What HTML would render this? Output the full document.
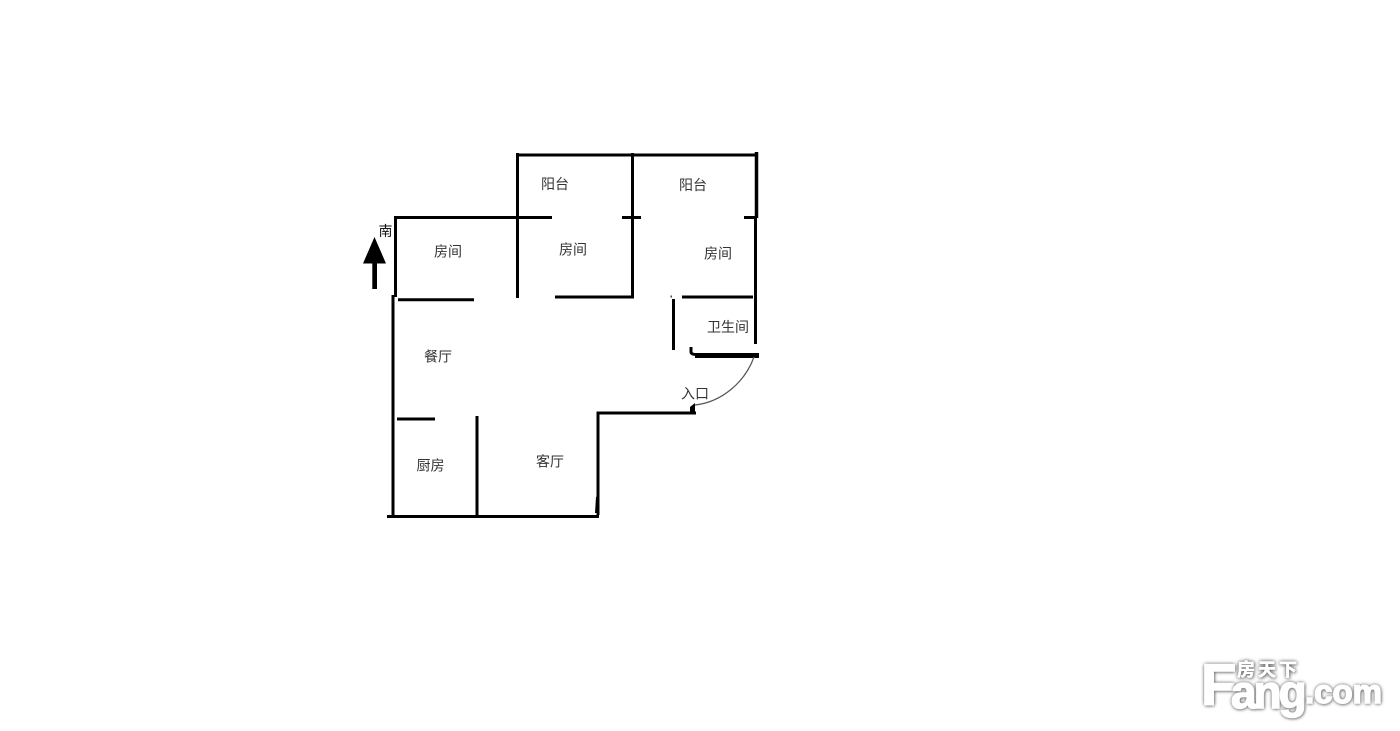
<!DOCTYPE html>
<html lang="zh"><head><meta charset="utf-8"><title>户型图</title>
<style>
html,body{margin:0;padding:0;background:#fff}
svg{display:block}
text{font-family:"Liberation Sans","Noto Sans CJK SC",sans-serif}
.l{font-size:14px;fill:#333;text-anchor:middle}
.w{stroke:#000;stroke-width:3;fill:none}
.logo{position:absolute;color:#fff;font-family:"Liberation Sans","Noto Sans CJK SC",sans-serif;font-weight:bold;-webkit-text-stroke:1.5px #fff;text-shadow:0 0 3px #666,0 0 4px #777,1px 1px 3px #888;white-space:nowrap;line-height:1}
</style></head>
<body style="width:1400px;height:731px;overflow:hidden;position:relative">
<svg width="1400" height="731" viewBox="0 0 1400 731">
<g class="w">
<path d="M395.500 216V297M397 217.500H552"/>
<path d="M517.500 153V298M516 155H755"/>
<path d="M632.500 153V298M555 297H634M622 217.500H641"/>
<path d="M744 217.500H757"/>
<path d="M756.500 152V218" stroke-width="3.500"/>
<path d="M755.500 217V344"/>
<path d="M682 297H753M673.500 299V350"/>
<path d="M398 299.700H474"/>
<path d="M393 295V516"/>
<path d="M387 516.500H599"/>
<path d="M397 419H435"/>
<path d="M477 416V516"/>
<path d="M598 515V413H696"/>
<path d="M691 347V352Q691 354 695 354.500"/>
<path d="M695 355.500H759" stroke-width="5"/>
</g>
<path d="M754 357C745 382 722 402 695 405" fill="none" stroke="#555" stroke-width="1.200"/>
<path d="M690 407L695 403V412H690Z" fill="#000"/>
<path d="M595 513L596 497L599.500 495L598 513Z" fill="#000"/>
<rect x="670.500" y="295.500" width="1.500" height="2" fill="#444"/>
<path d="M374.500 237L386 263.500H377V289H372.300V263.500H363Z" fill="#000"/>
<text class="l" x="448" y="256.500">房间</text>
<text class="l" x="555" y="189">阳台</text>
<text class="l" x="573" y="254.500">房间</text>
<text class="l" x="693" y="190">阳台</text>
<text class="l" x="718" y="258.500">房间</text>
<text class="l" x="728" y="332">卫生间</text>
<text class="l" x="438" y="361.500">餐厅</text>
<text class="l" x="695" y="398.500">入口</text>
<text class="l" x="430.500" y="470.500">厨房</text>
<text class="l" x="550" y="466.500">客厅</text>
<text class="l" x="385.500" y="236" style="fill:#111">南</text>
</svg>
<div class="logo" style="left:1201px;top:657px;font-size:58px">F</div>
<div class="logo" style="left:1237px;top:661px;font-size:18px;letter-spacing:3px;-webkit-text-stroke:.6px #fff">房天下</div>
<div class="logo" style="left:1231px;top:669px;font-size:46px;letter-spacing:-3px">ang</div>
<div class="logo" style="left:1305px;top:675px;font-size:33px">.com</div>
</body></html>
